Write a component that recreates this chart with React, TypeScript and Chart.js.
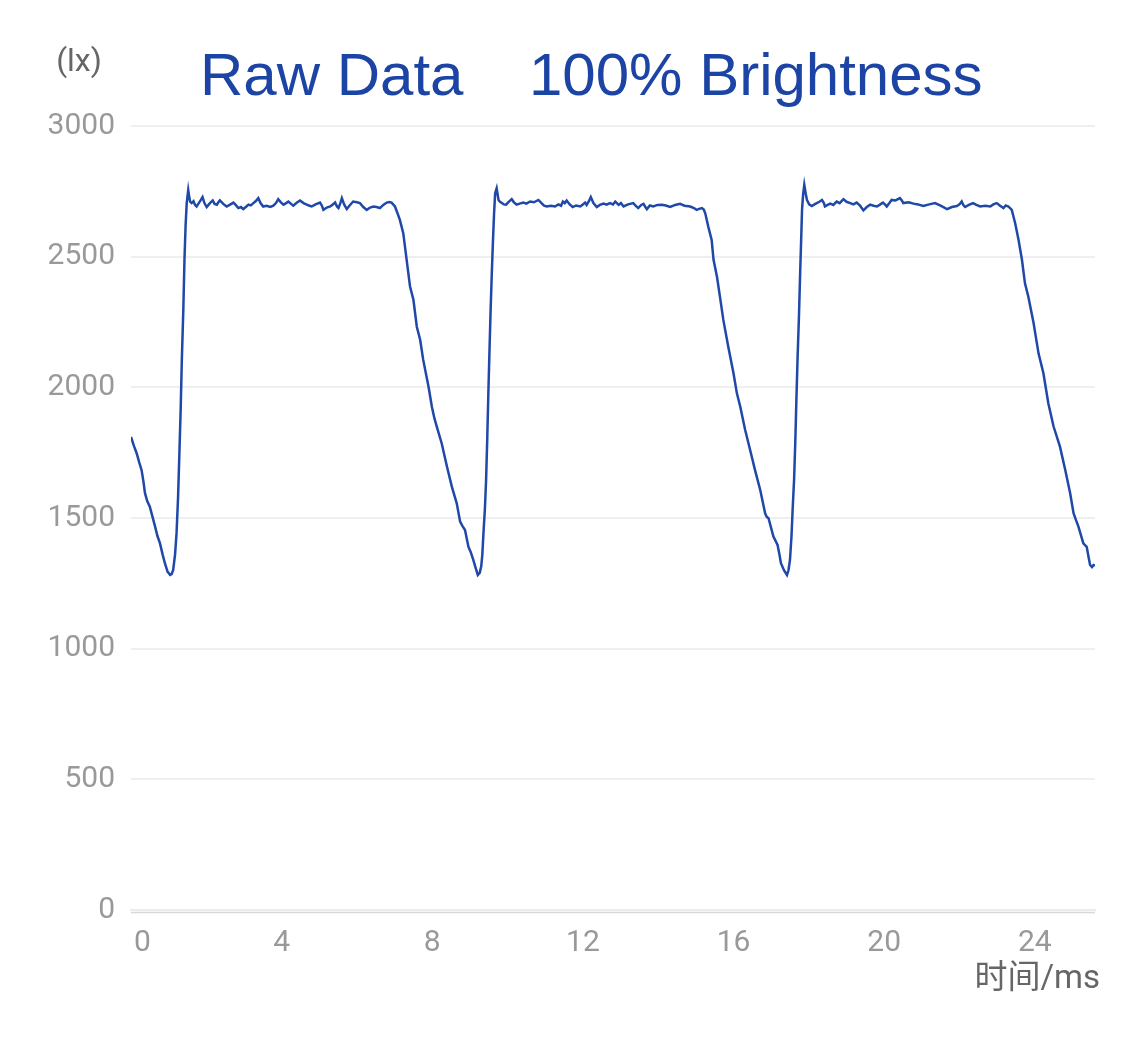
import React, { useEffect, useRef } from "react";
import { Chart, registerables } from "chart.js";

Chart.register(...registerables);

// time axis (ms)
const timeMs: number[] = [
  0.00, 0.08, 0.15, 0.22, 0.28, 0.33, 0.37, 0.43, 0.50, 0.57, 0.64, 0.70, 0.77, 0.84, 0.90, 0.97,
  1.04, 1.08, 1.12, 1.17, 1.21, 1.25, 1.28, 1.32, 1.35, 1.39, 1.42, 1.45, 1.48, 1.52, 1.55, 1.57,
  1.61, 1.66, 1.70, 1.74, 1.80, 1.86, 1.90, 1.95, 2.01, 2.08, 2.13, 2.17, 2.22, 2.28, 2.32, 2.36,
  2.45, 2.54, 2.62, 2.72, 2.78, 2.85, 2.92, 2.98, 3.05, 3.12, 3.18, 3.25, 3.31, 3.38, 3.44, 3.51,
  3.60, 3.70, 3.78, 3.85, 3.91, 3.98, 4.05, 4.12, 4.18, 4.25, 4.31, 4.40, 4.49, 4.58, 4.67, 4.74,
  4.80, 4.90, 5.02, 5.07, 5.11, 5.20, 5.29, 5.36, 5.42, 5.47, 5.51, 5.56, 5.60, 5.66, 5.73, 5.80,
  5.90, 6.00, 6.08, 6.17, 6.26, 6.35, 6.44, 6.52, 6.61, 6.70, 6.79, 6.86, 6.92, 7.01, 7.08, 7.14,
  7.23, 7.32, 7.41, 7.50, 7.59, 7.68, 7.76, 7.90, 7.99, 8.06, 8.12, 8.25, 8.39, 8.52, 8.65, 8.74,
  8.80, 8.87, 8.96, 9.02, 9.09, 9.15, 9.21, 9.26, 9.30, 9.33, 9.36, 9.40, 9.43, 9.46, 9.49, 9.52,
  9.55, 9.58, 9.61, 9.64, 9.67, 9.71, 9.74, 9.76, 9.80, 9.85, 9.90, 9.96, 10.03, 10.11, 10.17, 10.24,
  10.32, 10.42, 10.50, 10.60, 10.70, 10.82, 10.90, 10.97, 11.04, 11.15, 11.26, 11.35, 11.42, 11.47, 11.52, 11.57,
  11.65, 11.73, 11.82, 11.93, 12.00, 12.06, 12.10, 12.16, 12.21, 12.28, 12.37, 12.45, 12.55, 12.63, 12.72, 12.80,
  12.86, 12.95, 13.01, 13.08, 13.20, 13.34, 13.40, 13.47, 13.55, 13.61, 13.66, 13.70, 13.78, 13.87, 13.98, 14.10,
  14.20, 14.32, 14.45, 14.58, 14.70, 14.85, 14.95, 15.02, 15.09, 15.16, 15.21, 15.25, 15.33, 15.42, 15.47, 15.56,
  15.64, 15.73, 15.86, 16.00, 16.09, 16.18, 16.31, 16.44, 16.57, 16.71, 16.84, 16.88, 16.93, 17.06, 17.17, 17.22,
  17.26, 17.34, 17.42, 17.46, 17.50, 17.54, 17.57, 17.61, 17.64, 17.67, 17.70, 17.74, 17.77, 17.80, 17.82, 17.85,
  17.88, 17.92, 17.95, 18.01, 18.08, 18.15, 18.21, 18.28, 18.35, 18.40, 18.43, 18.50, 18.57, 18.65, 18.74, 18.82,
  18.92, 19.00, 19.10, 19.18, 19.27, 19.36, 19.45, 19.54, 19.63, 19.72, 19.81, 19.90, 19.97, 20.02, 20.07, 20.14,
  20.20, 20.30, 20.42, 20.47, 20.51, 20.65, 20.78, 20.90, 21.04, 21.20, 21.35, 21.50, 21.67, 21.80, 21.93, 22.00,
  22.06, 22.10, 22.15, 22.25, 22.36, 22.45, 22.55, 22.68, 22.82, 22.90, 22.99, 23.08, 23.17, 23.23, 23.30, 23.39,
  23.48, 23.57, 23.66, 23.74, 23.83, 23.97, 24.10, 24.23, 24.36, 24.50, 24.67, 24.81, 24.94, 25.03, 25.10, 25.16,
  25.29, 25.38, 25.43, 25.47, 25.52, 25.56, 25.60,
];

// illuminance (lx)
const luxValues: number[] = [
  1810, 1775, 1748, 1712, 1684, 1640, 1596, 1565, 1543, 1505, 1467, 1432, 1403, 1360, 1327, 1295,
  1282, 1285, 1301, 1360, 1443, 1580, 1722, 1920, 2105, 2300, 2488, 2620, 2706, 2755, 2725, 2711,
  2705, 2712, 2698, 2692, 2705, 2718, 2728, 2705, 2690, 2702, 2710, 2715, 2702, 2699, 2708, 2715,
  2702, 2692, 2698, 2707, 2698, 2686, 2690, 2682, 2690, 2699, 2696, 2705, 2712, 2724, 2705, 2692,
  2695, 2690, 2695, 2705, 2720, 2708, 2699, 2705, 2711, 2702, 2695, 2706, 2715, 2705, 2699, 2695,
  2692, 2700, 2707, 2695, 2679, 2688, 2692, 2700, 2707, 2692, 2686, 2705, 2724, 2700, 2682, 2695,
  2711, 2708, 2705, 2690, 2679, 2688, 2692, 2690, 2686, 2698, 2707, 2709, 2707, 2692, 2665, 2641,
  2590, 2488, 2386, 2335, 2232, 2181, 2105, 2003, 1926, 1880, 1850, 1786, 1697, 1620, 1556, 1486,
  1470, 1454, 1390, 1370, 1340, 1310, 1282, 1290, 1314, 1360, 1442, 1540, 1646, 1800, 1977, 2140,
  2296, 2430, 2551, 2660, 2743, 2762, 2735, 2717, 2710, 2705, 2700, 2699, 2710, 2720, 2708, 2699,
  2703, 2707, 2703, 2711, 2708, 2717, 2705, 2695, 2692, 2695, 2692, 2700, 2695, 2711, 2705, 2715,
  2700, 2690, 2696, 2692, 2700, 2707, 2698, 2712, 2728, 2705, 2690, 2698, 2703, 2699, 2705, 2700,
  2711, 2698, 2705, 2692, 2700, 2705, 2695, 2686, 2698, 2702, 2690, 2682, 2696, 2692, 2698, 2699,
  2696, 2690, 2698, 2702, 2695, 2692, 2686, 2679, 2683, 2686, 2680, 2666, 2615, 2564, 2488, 2424,
  2347, 2258, 2156, 2054, 1977, 1926, 1837, 1761, 1684, 1607, 1518, 1505, 1499, 1429, 1397, 1360,
  1327, 1300, 1282, 1300, 1340, 1430, 1531, 1650, 1786, 1950, 2105, 2280, 2437, 2580, 2679, 2740,
  2775, 2740, 2717, 2700, 2694, 2700, 2705, 2710, 2717, 2705, 2692, 2698, 2703, 2698, 2711, 2705,
  2720, 2710, 2705, 2700, 2707, 2695, 2677, 2690, 2699, 2695, 2692, 2700, 2707, 2700, 2692, 2705,
  2717, 2715, 2724, 2715, 2705, 2708, 2703, 2700, 2694, 2700, 2705, 2695, 2682, 2690, 2694, 2700,
  2711, 2698, 2690, 2698, 2705, 2698, 2692, 2695, 2692, 2700, 2705, 2695, 2686, 2696, 2692, 2679,
  2628, 2564, 2488, 2398, 2347, 2245, 2130, 2054, 1939, 1850, 1773, 1684, 1595, 1518, 1490, 1467,
  1403, 1390, 1350, 1320, 1312, 1320, 1318,
];

const xTicks: number[] = [0, 4, 8, 12, 16, 20, 24];
const yTicks: number[] = [0, 500, 1000, 1500, 2000, 2500, 3000];

const titleLeft = "Raw Data";
const titleRight = "100% Brightness";
const yUnit = "(lx)";
const xUnit = "时间/ms";

const LINE_COLOR = "#1f48a8";
const TITLE_COLOR = "#1c44a5";

const textPlugin = {
  id: "extraText",
  afterDraw(chart: any) {
    const ctx = chart.ctx;
    const area = chart.chartArea;
    ctx.save();
    // double baseline under the plot
    ctx.strokeStyle = "#d8d8d8";
    ctx.lineWidth = 1.5;
    ctx.beginPath();
    ctx.moveTo(area.left, area.bottom + 2.5);
    ctx.lineTo(area.right, area.bottom + 2.5);
    ctx.stroke();

    ctx.fillStyle = TITLE_COLOR;
    ctx.font = "60px 'Liberation Sans', Arial, sans-serif";
    ctx.textBaseline = "alphabetic";
    ctx.textAlign = "left";
    ctx.fillText(titleLeft, 200, 95);
    ctx.fillText(titleRight, 529, 95);

    ctx.fillStyle = "#666666";
    ctx.font = "32px Roboto, 'Noto Sans CJK SC', sans-serif";
    ctx.textAlign = "center";
    ctx.textBaseline = "middle";
    ctx.fillText(yUnit, 79, 63);

    ctx.font = "33px Roboto, 'Noto Sans CJK SC', sans-serif";
    ctx.textAlign = "right";
    ctx.fillText(xUnit, 1100, 980);
    ctx.restore();
  },
};

export default function App() {
  const canvasRef = useRef<HTMLCanvasElement | null>(null);

  useEffect(() => {
    const canvas = canvasRef.current;
    if (!canvas) return;
    const points = timeMs.map((t, i) => ({ x: t, y: luxValues[i] }));
    const chart = new Chart(canvas, {
      type: "line",
      data: {
        datasets: [
          {
            data: points,
            borderColor: LINE_COLOR,
            borderWidth: 2.5,
            pointRadius: 0,
            tension: 0,
            fill: false,
          },
        ],
      },
      options: {
        animation: false,
        responsive: false,
        maintainAspectRatio: false,
        devicePixelRatio: 1,
        layout: { padding: { top: 126, right: 30, left: 0, bottom: 0 } },
        plugins: {
          legend: { display: false },
          title: { display: false },
          tooltip: { enabled: false },
        },
        scales: {
          x: {
            type: "linear",
            min: 0,
            max: 25.6,
            afterFit: (scale: any) => {
              scale.height = 130;
            },
            afterBuildTicks: (scale: any) => {
              scale.ticks = xTicks.map((v) => ({ value: v }));
            },
            ticks: {
              includeBounds: false,
              color: "#999999",
              font: { family: "Roboto, sans-serif", size: 30 },
              padding: 15,
              maxRotation: 0,
              autoSkip: false,
              callback: (v: any) => (v === 0 ? "\u2002 0" : String(v)),
            },
            grid: { display: false, drawTicks: false },
            border: { display: true, color: "#ececec", width: 2 },
          },
          y: {
            type: "linear",
            min: 0,
            max: 3000,
            afterFit: (scale: any) => {
              scale.width = 131;
            },
            afterBuildTicks: (scale: any) => {
              scale.ticks = yTicks.map((v) => ({ value: v }));
            },
            ticks: {
              color: "#999999",
              font: { family: "Roboto, sans-serif", size: 30 },
              padding: 16,
              autoSkip: false,
              callback: (v: any) => String(v),
            },
            grid: { color: "#efefef", lineWidth: 2, drawTicks: false },
            border: { display: false },
          },
        },
      },
      plugins: [textPlugin],
    });
    return () => chart.destroy();
  }, []);

  return (
    <div style={{ position: "absolute", left: 0, top: 0, width: 1125, height: 1040, background: "#ffffff" }}>
      <canvas ref={canvasRef} width={1125} height={1040} style={{ width: 1125, height: 1040, display: "block" }} />
    </div>
  );
}
